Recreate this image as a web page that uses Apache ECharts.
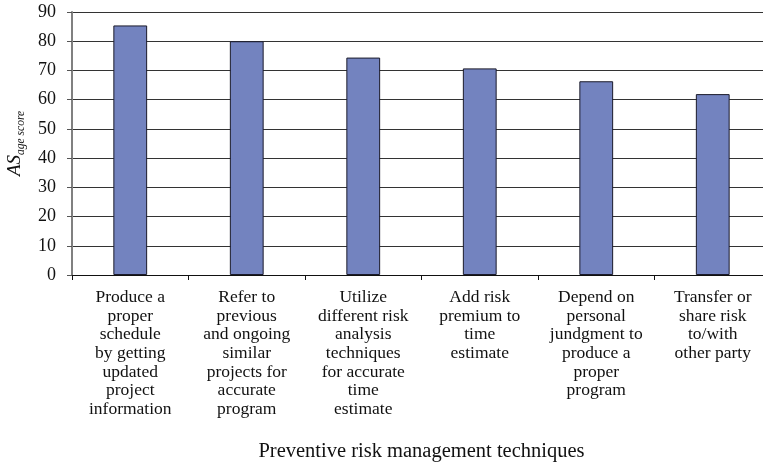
<!DOCTYPE html>
<html>
<head>
<meta charset="utf-8">
<script src="https://cdn.jsdelivr.net/npm/echarts@6/dist/echarts.min.js"></script>
<style>html,body{margin:0;padding:0;background:#fff}#c{width:763px;height:465px}</style>
</head>
<body>
<div id="c"></div>
<script>
const categories = [
  "Produce a\nproper\nschedule\nby getting\nupdated\nproject\ninformation",
  "Refer to\nprevious\nand ongoing\nsimilar\nprojects for\naccurate\nprogram",
  "Utilize\ndifferent risk\nanalysis\ntechniques\nfor accurate\ntime\nestimate",
  "Add risk\npremium to\ntime\nestimate",
  "Depend on\npersonal\njundgment to\nproduce a\nproper\nprogram",
  "Transfer or\nshare risk\nto/with\nother party"
];
const scores = [85.4, 80.0, 74.4, 70.7, 66.3, 61.9];
const yTicks = { min: 0, max: 90, interval: 10 };
const xTitle = "Preventive risk management techniques";

const serif = "'Liberation Serif', 'DejaVu Serif', serif";
const chart = echarts.init(document.getElementById('c'));
chart.setOption({
  animation: false,
  grid: { left: 72, top: 12, right: -8, bottom: 190, containLabel: false, outerBoundsMode: 'none' },
  xAxis: {
    type: 'category',
    data: categories,
    name: xTitle,
    nameLocation: 'middle',
    nameGap: 166,
    nameTextStyle: { fontFamily: serif, fontSize: 20.5, color: '#111' },
    axisLine: { lineStyle: { color: '#111', width: 1.2 } },
    axisTick: { show: true, length: 5, lineStyle: { color: '#111' } },
    axisLabel: { interval: 0, fontFamily: serif, fontSize: 17.5, color: '#111', lineHeight: 18.7, margin: 13, align: 'center' }
  },
  yAxis: {
    type: 'value',
    min: yTicks.min, max: yTicks.max, interval: yTicks.interval,
    name: '{a|AS}{b|age score}',
    nameLocation: 'middle',
    nameGap: 43,
    nameRotate: 90,
    nameTextStyle: {
      rich: {
        a: { fontFamily: serif, fontStyle: 'italic', fontSize: 19, color: '#111', verticalAlign: 'bottom', lineHeight: 22 },
        b: { fontFamily: serif, fontStyle: 'italic', fontSize: 11.5, color: '#111', verticalAlign: 'bottom', lineHeight: 22, padding: [0, 0, -3, 0] }
      }
    },
    axisLine: { show: true, lineStyle: { color: '#808080', width: 2 } },
    axisTick: { show: true, length: 5, lineStyle: { color: '#555' } },
    axisLabel: { fontFamily: serif, fontSize: 18, color: '#111', margin: 16 },
    splitLine: { show: true, lineStyle: { color: '#333', width: 1 } }
  },
  series: [{
    type: 'bar',
    data: scores,
    barWidth: '29%',
    itemStyle: { color: '#7383BF', borderColor: '#1a1a2a', borderWidth: 1 }
  }]
});
</script>
</body>
</html>
